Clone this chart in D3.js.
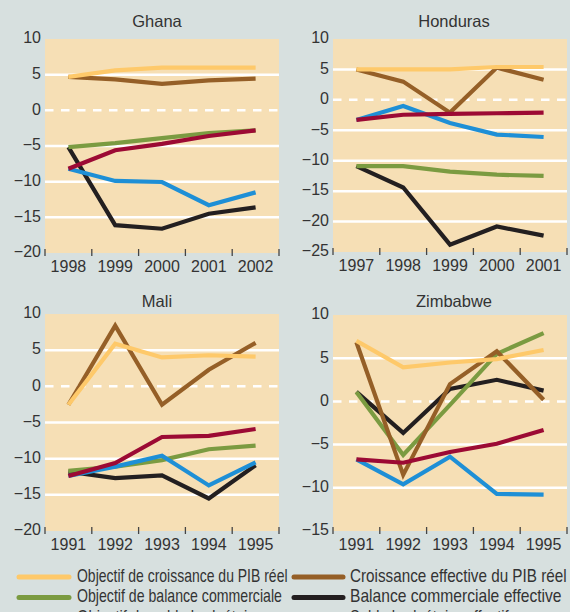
<!DOCTYPE html>
<html><head><meta charset="utf-8">
<script src="https://cdn.jsdelivr.net/npm/d3@7"></script>
<style>
html,body{margin:0;padding:0;background:#d7e0df;}
svg{display:block;}
text{font-family:"Liberation Sans",Arial,sans-serif;fill:#333;}
</style></head>
<body><svg id="c" width="570" height="612"></svg>
<script>
// ---- Data (percent) ----
const seriesNames = ["Objectif de croissance du PIB réel","Croissance effective du PIB réel",
  "Objectif de balance commerciale","Balance commerciale effective",
  "Objectif de solde budgétaire","Solde budgétaire effectif"];
const seriesColors = ["#fec96a","#955f27","#7b9b41","#231f20","#9c0a34","#1e8fd6"];

const ghanaYears = ["1998","1999","2000","2001","2002"];
const ghanaGrowthTarget = [4.7, 5.6, 6.0, 6.0, 6.0];
const ghanaGrowthActual = [4.7, 4.35, 3.7, 4.2, 4.45];
const ghanaTradeTarget  = [-5.15, -4.6, -3.9, -3.2, -2.8];
const ghanaTradeActual  = [-5.15, -16.1, -16.6, -14.5, -13.6];
const ghanaBudgetTarget = [-8.2, -5.6, -4.7, -3.6, -2.8];
const ghanaBudgetActual = [-8.2, -9.9, -10.05, -13.3, -11.5];

const hondurasYears = ["1997","1998","1999","2000","2001"];
const hondurasGrowthTarget = [5.0, 5.0, 5.0, 5.4, 5.4];
const hondurasGrowthActual = [5.0, 3.0, -2.1, 5.3, 3.3];
const hondurasTradeTarget  = [-10.9, -10.9, -11.8, -12.3, -12.5];
const hondurasTradeActual  = [-10.9, -14.4, -23.8, -20.8, -22.3];
const hondurasBudgetTarget = [-3.3, -2.45, -2.3, -2.2, -2.1];
const hondurasBudgetActual = [-3.3, -1.0, -3.8, -5.7, -6.1];

const maliYears = ["1991","1992","1993","1994","1995"];
const maliGrowthTarget = [-2.55, 5.9, 4.0, 4.3, 4.1];
const maliGrowthActual = [-2.55, 8.4, -2.55, 2.3, 6.0];
const maliTradeTarget  = [-11.7, -11.1, -10.2, -8.7, -8.2];
const maliTradeActual  = [-11.8, -12.7, -12.3, -15.5, -10.9];
const maliBudgetTarget = [-12.4, -10.6, -7.0, -6.85, -5.9];
const maliBudgetActual = [-12.4, -11.1, -9.6, -13.7, -10.5];

const zimYears = ["1991","1992","1993","1994","1995"];
const zimGrowthTarget = [7.0, 3.95, 4.5, 4.9, 5.95];
const zimGrowthActual = [6.85, -8.5, 2.0, 5.8, 0.2];
const zimTradeTarget  = [1.1, -6.2, -0.4, 5.5, 7.9];
const zimTradeActual  = [1.1, -3.65, 1.45, 2.5, 1.25];
const zimBudgetTarget = [-6.7, -7.1, -5.85, -4.9, -3.3];
const zimBudgetActual = [-6.7, -9.6, -6.4, -10.7, -10.8];

const ghanaTicks = [10,5,0,-5,-10,-15,-20];
const hondurasTicks = [10,5,0,-5,-10,-15,-20,-25];
const maliTicks = [10,5,0,-5,-10,-15,-20];
const zimTicks = [10,5,0,-5,-10,-15];

// ---- Panels ----
const panels = [
  {title:"Ghana", years:ghanaYears, ticks:ghanaTicks, dom:[-20,10],
   series:[ghanaGrowthTarget,ghanaGrowthActual,ghanaTradeTarget,ghanaTradeActual,ghanaBudgetTarget,ghanaBudgetActual],
   x0:45,x1:279,y0:39,y1:253,tx:157,ty:27},
  {title:"Honduras", years:hondurasYears, ticks:hondurasTicks, dom:[-25,10],
   series:[hondurasGrowthTarget,hondurasGrowthActual,hondurasTradeTarget,hondurasTradeActual,hondurasBudgetTarget,hondurasBudgetActual],
   x0:333,x1:567,y0:39,y1:252,tx:454,ty:27},
  {title:"Mali", years:maliYears, ticks:maliTicks, dom:[-20,10],
   series:[maliGrowthTarget,maliGrowthActual,maliTradeTarget,maliTradeActual,maliBudgetTarget,maliBudgetActual],
   x0:45,x1:279,y0:314,y1:531,tx:157,ty:307},
  {title:"Zimbabwe", years:zimYears, ticks:zimTicks, dom:[-15,10],
   series:[zimGrowthTarget,zimGrowthActual,zimTradeTarget,zimTradeActual,zimBudgetTarget,zimBudgetActual],
   x0:333,x1:567,y0:315,y1:531,tx:454,ty:307}
];
// drawing order (bottom to top)
const drawOrder = [3,2,1,0,5,4];

const svg = d3.select("#c");

panels.forEach(p=>{
  const g = svg.append("g");
  const xb = d3.scaleBand().domain(p.years).range([p.x0,p.x1]).paddingInner(0).paddingOuter(0);
  const y = d3.scaleLinear().domain(p.dom).range([p.y1,p.y0]);
  const xc = d => xb(d)+xb.bandwidth()/2;

  g.append("rect").attr("x",p.x0).attr("y",p.y0).attr("width",p.x1-p.x0).attr("height",p.y1-p.y0)
    .attr("fill","#f6dfb5");

  // grid lines
  p.ticks.filter(t=>t!==p.dom[0] && t!==p.dom[1]).forEach(t=>{
    g.append("line").attr("x1",p.x0).attr("x2",p.x1).attr("y1",y(t)).attr("y2",y(t))
      .attr("stroke","#fff").attr("stroke-width",2.5)
      .attr("stroke-dasharray", t===0 ? "8.5,7.5" : null);
  });

  // y labels
  g.selectAll(".yl").data(p.ticks).enter().append("text")
    .attr("x",p.x0-4).attr("y",d=>y(d)).attr("dy","0.27em")
    .attr("text-anchor","end").attr("font-size",16)
    .text(d=> d<0 ? "\u2212"+Math.abs(d) : String(d));

  // x ticks at band edges
  const edges = p.years.map(d=>xb(d)).concat([p.x1]);
  edges.forEach(e=>{
    g.append("line").attr("x1",e).attr("x2",e).attr("y1",p.y1-4).attr("y2",p.y1+3)
      .attr("stroke","#444").attr("stroke-width",1.3);
  });
  g.selectAll(".xl").data(p.years).enter().append("text")
    .attr("x",d=>xc(d)).attr("y",p.y1+19).attr("text-anchor","middle").attr("font-size",16)
    .text(d=>d);

  // title
  g.append("text").attr("x",p.tx).attr("y",p.ty).attr("text-anchor","middle").attr("font-size",16.5)
    .text(p.title);

  const line = d3.line().x((d,i)=>xc(p.years[i])).y(d=>y(d));
  drawOrder.forEach(k=>{
    g.append("path").attr("d",line(p.series[k])).attr("fill","none")
      .attr("stroke",seriesColors[k]).attr("stroke-width",4.2)
      .attr("stroke-linejoin","miter").attr("stroke-linecap","butt");
  });
});

// ---- Legend ----
const leg = svg.append("g");
const legendTargets = [210.6,216.7,205,211.7];
const ratios = [];
const legTexts = [];
seriesNames.forEach((name,i)=>{
  const col = i%2, row = Math.floor(i/2);
  const ly = 577 + row*20.6;
  const lx0 = col===0 ? 19 : 294, lx1 = col===0 ? 69 : 343, tx = col===0 ? 77 : 350;
  leg.append("line").attr("x1",lx0).attr("x2",lx1).attr("y1",ly).attr("y2",ly)
    .attr("stroke",seriesColors[i]).attr("stroke-width",5).attr("stroke-linecap","round");
  const t = leg.append("text").attr("x",0).attr("y",0)
    .attr("font-size",18).style("font-family","'Liberation Sans Narrow','Liberation Sans',Arial,sans-serif")
    .text(name);
  const natural = t.node().getComputedTextLength();
  const target = legendTargets[i];
  if (target) ratios.push(target/natural);
  legTexts.push({t, tx, ty: ly+4.5, natural, target});
});
const avgRatio = d3.mean(ratios);
legTexts.forEach(o=>{
  const r = o.target ? o.target/o.natural : avgRatio;
  o.t.attr("transform",`translate(${o.tx},${o.ty}) scale(${Math.min(1,r)},1)`);
});
</script></body></html>
